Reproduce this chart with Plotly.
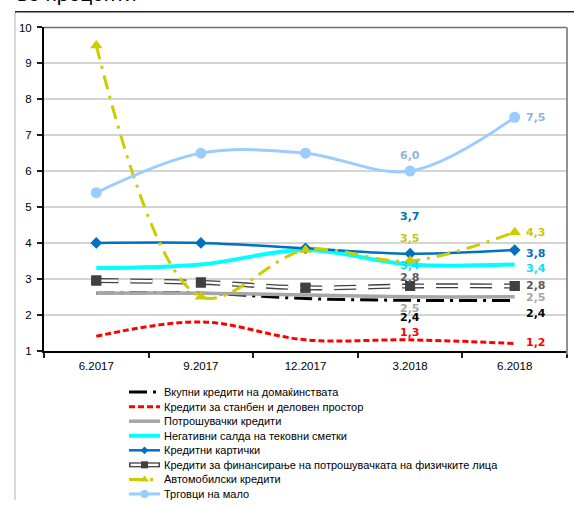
import plotly.graph_objects as go

W, H = 574, 506

# ---- data -------------------------------------------------------------
categories = ["6.2017", "9.2017", "12.2017", "3.2018", "6.2018"]

vkupni_krediti = [2.6, 2.6, 2.45, 2.4, 2.4]
stanben_prostor = [1.4, 1.8, 1.3, 1.3, 1.2]
potrosuvacki = [2.6, 2.6, 2.55, 2.5, 2.5]
negativni_salda = [3.3, 3.4, 3.8, 3.4, 3.4]
kreditni_kartichki = [4.0, 4.0, 3.85, 3.7, 3.8]
finansiranje_potrosuvacka = [2.95, 2.9, 2.75, 2.8, 2.8]
avtomobilski = [9.5, 2.5, 3.8, 3.5, 4.3]
trgovci_na_malo = [5.4, 6.5, 6.5, 6.0, 7.5]

y_ticks = [1, 2, 3, 4, 5, 6, 7, 8, 9, 10]
title_text = "во проценти"

# ---- styles -------------------------------------------------------------
FONT = "Liberation Sans"
LABEL_FONT = "DejaVu Sans"
series = [
    dict(name="Вкупни кредити на домаќинствата", y=vkupni_krediti,
         color="#000000", width=3, dash="18px,6px,3px,6px", symbol=None,
         label_color="#000000", shift_mid=-17, shift_end=-13),
    dict(name="Кредити за станбен и деловен простор", y=stanben_prostor,
         color="#FF0000", width=3, dash="6px,3px", symbol=None,
         label_color="#FF0000", shift_mid=7, shift_end=1),
    dict(name="Потрошувачки кредити", y=potrosuvacki,
         color="#A6A6A6", width=3.5, dash="solid", symbol=None,
         label_color="#A6A6A6", shift_mid=-12, shift_end=-1),
    dict(name="Негативни салда на тековни сметки", y=negativni_salda,
         color="#00FFFF", width=4, dash="solid", symbol=None,
         label_color="#00E5FF", shift_mid=-1, shift_end=-4),
    dict(name="Кредитни картички", y=kreditni_kartichki,
         color="#0070C0", width=2.5, dash="solid", symbol="diamond", msize=9,
         label_color="#0070C0", shift_mid=37, shift_end=-3),
    dict(name="Кредити за финансирање на потрошувачката на физичките лица",
         y=finansiranje_potrosuvacka,
         color="#404040", width=5, dash="22px,12px", symbol="square", msize=10,
         inner="#FFFFFF", label_color="#595959", shift_mid=8, shift_end=0),
    dict(name="Автомобилски кредити", y=avtomobilski,
         color="#CCCC00", width=3, dash="14px,7px,3px,7px", symbol="triangle-up", msize=11,
         label_color="#C8C800", shift_mid=22, shift_end=0),
    dict(name="Трговци на мало", y=trgovci_na_malo,
         color="#99CCFF", width=3, dash="solid", symbol="circle", msize=11,
         label_color="#8DB4E2", shift_mid=16, shift_end=0),
]

fig = go.Figure()

# ---- main series --------------------------------------------------------
for s in series:
    mode = "lines+markers" if s["symbol"] else "lines"
    marker = dict(symbol=s["symbol"], size=s.get("msize", 8), color=s["color"]) if s["symbol"] else None
    fig.add_trace(go.Scatter(
        x=categories, y=s["y"], name=s["name"], mode=mode,
        line=dict(color=s["color"], width=s["width"], dash=s["dash"], shape="spline", smoothing=1),
        marker=marker, showlegend=False, xaxis="x", yaxis="y",
    ))
    if "inner" in s:
        # white core of the double (outlined) dashed line, then the markers on top
        fig.add_trace(go.Scatter(
            x=categories, y=s["y"], mode="lines",
            line=dict(color=s["inner"], width=s["width"] - 2.6, dash=s["dash"], shape="spline", smoothing=1),
            showlegend=False, hoverinfo="skip",
        ))
        fig.add_trace(go.Scatter(
            x=categories, y=s["y"], mode="markers",
            marker=dict(symbol=s["symbol"], size=s["msize"], color=s["color"]),
            showlegend=False, hoverinfo="skip",
        ))

# ---- value labels at the last two dates ---------------------------------
def fmt(v):
    return f"{v:.1f}".replace(".", ",")

for s in series:
    for idx, key, kw in ((3, "shift_mid", dict(xanchor="center", xshift=0)),
                         (4, "shift_end", dict(xanchor="left", xshift=9))):
        # category axis: position annotations by category index
        fig.add_annotation(
            x=idx, y=s["y"][idx], xref="x", yref="y",
            text=fmt(s["y"][idx]), showarrow=False, yanchor="middle",
            yshift=s[key], font=dict(family=LABEL_FONT, size=11, color=s["label_color"], weight="bold"),
            **kw,
        )

# ---- legend block below the chart ---------------------------------------
LEG_SYM_X0, LEG_SYM_X1, LEG_TEXT_X = 129, 160, 162
LEG_ROW0, LEG_ROW_STEP = 395.5, 14.9
for i, s in enumerate(series):
    ry = LEG_ROW0 + i * LEG_ROW_STEP
    fig.add_trace(go.Scatter(
        x=[LEG_SYM_X0, LEG_SYM_X1], y=[ry, ry], mode="lines",
        line=dict(color=s["color"], width=s["width"], dash=s["dash"] if "inner" not in s else "solid"),
        xaxis="x2", yaxis="y2", showlegend=False, hoverinfo="skip",
    ))
    if "inner" in s:
        fig.add_trace(go.Scatter(
            x=[LEG_SYM_X0 + 1.5, LEG_SYM_X1 - 1.5], y=[ry, ry], mode="lines",
            line=dict(color=s["inner"], width=s["width"] - 2.6),
            xaxis="x2", yaxis="y2", showlegend=False, hoverinfo="skip",
        ))
    if s["symbol"]:
        fig.add_trace(go.Scatter(
            x=[(LEG_SYM_X0 + LEG_SYM_X1) / 2], y=[ry], mode="markers",
            marker=dict(symbol=s["symbol"], size=s["msize"] - 3, color=s["color"]),
            xaxis="x2", yaxis="y2", showlegend=False, hoverinfo="skip",
        ))
    fig.add_annotation(
        x=LEG_TEXT_X, y=ry, xref="x2", yref="y2", text=s["name"], showarrow=False,
        xanchor="left", yanchor="middle", font=dict(family=FONT, size=11, color="#000000"),
    )

# ---- title (partly above the visible area) ------------------------------
fig.add_annotation(
    x=15, y=1.5, xref="x2", yref="y2", text=title_text, showarrow=False,
    xanchor="left", yanchor="bottom", font=dict(family=FONT, size=21, color="#000000"),
)

# ---- frames -------------------------------------------------------------
shapes = [
    # outer chart frame (left and top edges)
    dict(type="line", xref="x2", yref="y2", x0=15, x1=15, y0=6, y1=H, line=dict(color="#B0B0B0", width=1)),
    dict(type="line", xref="x2", yref="y2", x0=15, x1=W, y0=6, y1=6, line=dict(color="#202020", width=1.5)),
    # plot area border (top and right)
    dict(type="line", xref="x domain", yref="y domain", x0=0, x1=1, y0=1, y1=1, line=dict(color="#707070", width=1.5)),
    dict(type="line", xref="x domain", yref="y domain", x0=1, x1=1, y0=-0.012, y1=1, line=dict(color="#909090", width=2)),
]

fig.update_layout(
    width=W, height=H,
    margin=dict(l=0, r=0, t=0, b=0),
    paper_bgcolor="#FFFFFF", plot_bgcolor="rgba(0,0,0,0)",
    showlegend=False,
    font=dict(family=FONT, size=11, color="#000000"),
    shapes=shapes,
    xaxis=dict(
        domain=[44 / W, 567 / W], anchor="y", type="category",
        range=[-0.5, len(categories) - 0.5],
        tickson="boundaries", ticks="outside", ticklen=5, tickcolor="#202020", tickwidth=1.5,
        ticklabelstandoff=4,
        showline=True, linecolor="#000000", linewidth=2, showgrid=False, zeroline=False,
        tickfont=dict(family=FONT, size=11.5, color="#000000"),
    ),
    yaxis=dict(
        domain=[(H - 353) / H, (H - 22) / H], anchor="x",
        range=[1, 10], tickvals=y_ticks, ticktext=[str(v) for v in y_ticks],
        ticks="outside", ticklen=5, tickcolor="#202020", tickwidth=1.5, ticklabelstandoff=3,
        showline=True, linecolor="#000000", linewidth=2,
        showgrid=True, gridcolor="#D4D4D4", gridwidth=1.5, zeroline=False,
        tickfont=dict(family=FONT, size=11.5, color="#000000"),
    ),
    xaxis2=dict(domain=[0, 1], anchor="y2", range=[0, W], visible=False, fixedrange=True),
    yaxis2=dict(domain=[0, 1], anchor="x2", range=[H, 0], visible=False, fixedrange=True),
)

fig.write_html("out.html")
